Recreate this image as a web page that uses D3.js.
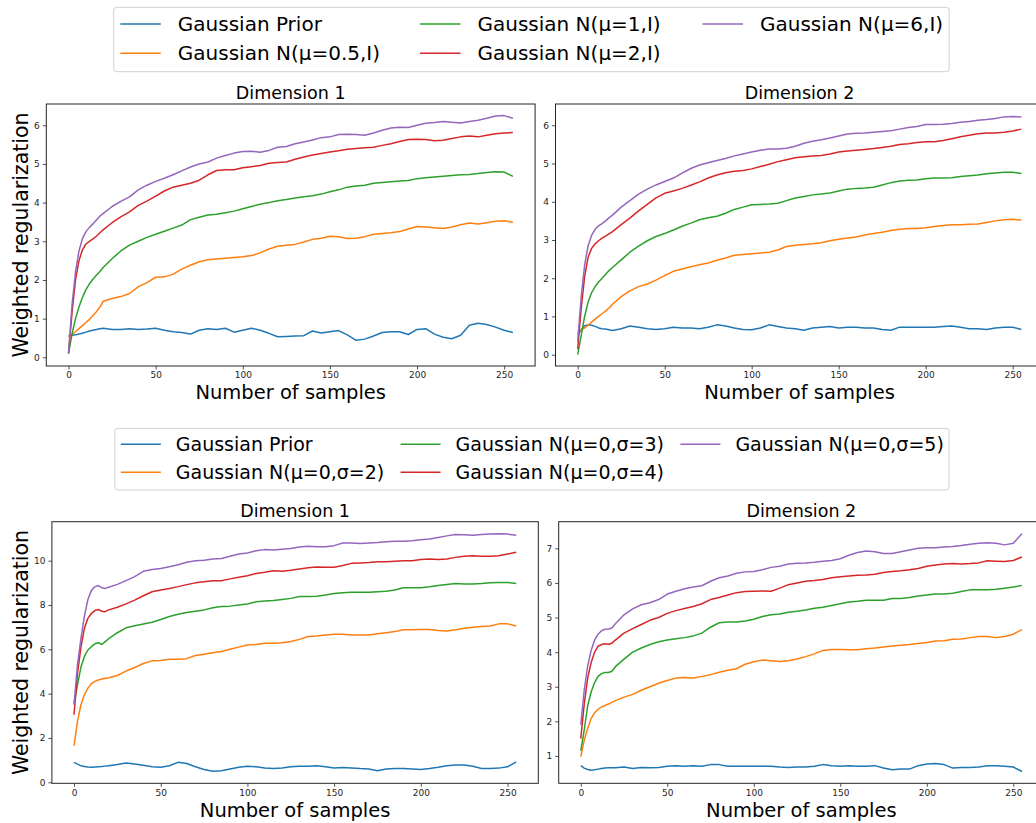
<!DOCTYPE html>
<html>
<head>
    <meta charset="utf-8">
    <title>weighted-regularization</title>
    <style>
        body { margin: 0; background: #fff; }
        svg { display: block; font-family: 'DejaVu Sans', sans-serif; }
    </style>
</head>

<body>
    <svg width="1036" height="823"></svg>

    <script src="https://cdn.jsdelivr.net/npm/d3@7/dist/d3.min.js"></script>
    <script>

    // sample positions (denser at the start where curves are steep)
    var samples = [0,2,4,6,8,10,12,14,16,18,20,25,30,35,40,45,50,55,60,65,70,75,80,85,90,95,100,105,110,115,120,125,130,135,140,145,150,155,160,165,170,175,180,185,190,195,200,205,210,215,220,225,230,235,240,245,250,255]
    var xTicks = [0, 50, 100, 150, 200, 250]

    var colors = ['#1f77b4', '#ff7f0e', '#2ca02c', '#d62728', '#9467bd']
    var muLabels = ['Gaussian Prior', 'Gaussian N(μ=0.5,I)', 'Gaussian N(μ=1,I)', 'Gaussian N(μ=2,I)', 'Gaussian N(μ=6,I)']
    var sigmaLabels = ['Gaussian Prior', 'Gaussian N(μ=0,σ=2)', 'Gaussian N(μ=0,σ=3)', 'Gaussian N(μ=0,σ=4)', 'Gaussian N(μ=0,σ=5)']

    // top figure, dimension 1
    var muD1Prior = [0.56,0.57,0.58,0.6,0.62,0.65,0.68,0.7,0.72,0.74,0.75,0.72,0.72,0.74,0.72,0.73,0.75,0.7,0.66,0.64,0.6,0.7,0.74,0.72,0.75,0.65,0.7,0.75,0.7,0.62,0.53,0.54,0.55,0.56,0.68,0.63,0.66,0.69,0.58,0.44,0.47,0.55,0.64,0.66,0.66,0.59,0.72,0.74,0.6,0.52,0.48,0.57,0.83,0.88,0.85,0.78,0.7,0.64]
    var muD1Half = [0.53,0.59,0.66,0.74,0.82,0.9,0.98,1.08,1.18,1.3,1.45,1.52,1.57,1.65,1.82,1.93,2.07,2.08,2.15,2.28,2.38,2.47,2.52,2.54,2.56,2.58,2.6,2.63,2.7,2.8,2.87,2.9,2.92,2.98,3.05,3.08,3.13,3.12,3.07,3.08,3.12,3.18,3.2,3.22,3.25,3.32,3.38,3.37,3.35,3.33,3.37,3.43,3.47,3.45,3.48,3.52,3.53,3.49]
    var muD1One = [0.1,0.6,1.0,1.3,1.55,1.75,1.9,2.02,2.12,2.22,2.33,2.55,2.75,2.9,3.0,3.1,3.18,3.26,3.34,3.42,3.56,3.62,3.68,3.7,3.74,3.78,3.84,3.9,3.96,4.0,4.05,4.08,4.12,4.15,4.18,4.22,4.28,4.33,4.4,4.43,4.45,4.5,4.52,4.54,4.56,4.57,4.62,4.64,4.66,4.68,4.7,4.72,4.73,4.75,4.78,4.8,4.79,4.68]
    var muD1Two = [0.1,1.15,2.0,2.5,2.78,2.93,3.0,3.06,3.13,3.22,3.3,3.48,3.63,3.76,3.93,4.04,4.17,4.3,4.4,4.45,4.5,4.58,4.72,4.83,4.85,4.85,4.9,4.93,4.96,5.02,5.04,5.05,5.12,5.18,5.23,5.27,5.31,5.34,5.38,5.4,5.42,5.43,5.48,5.52,5.58,5.63,5.64,5.63,5.6,5.61,5.66,5.7,5.72,5.7,5.74,5.78,5.8,5.81]
    var muD1Six = [0.1,1.35,2.2,2.75,3.07,3.25,3.36,3.45,3.55,3.65,3.72,3.9,4.03,4.15,4.33,4.45,4.55,4.63,4.72,4.82,4.92,5.0,5.05,5.15,5.22,5.28,5.32,5.33,5.3,5.35,5.43,5.45,5.52,5.57,5.62,5.68,5.7,5.76,5.77,5.76,5.74,5.8,5.87,5.93,5.95,5.94,6.0,6.05,6.07,6.1,6.08,6.06,6.1,6.13,6.18,6.24,6.25,6.18]

    // top figure, dimension 2
    var muD2Prior = [0.52,0.65,0.76,0.78,0.77,0.74,0.7,0.68,0.67,0.65,0.63,0.68,0.75,0.72,0.68,0.66,0.68,0.72,0.7,0.7,0.68,0.72,0.78,0.75,0.7,0.66,0.65,0.7,0.78,0.74,0.7,0.68,0.64,0.7,0.72,0.74,0.7,0.72,0.72,0.7,0.7,0.66,0.64,0.72,0.72,0.72,0.72,0.72,0.74,0.75,0.72,0.68,0.68,0.66,0.7,0.72,0.72,0.66]
    var muD2Half = [0.6,0.64,0.7,0.77,0.85,0.93,1.0,1.07,1.14,1.22,1.32,1.52,1.67,1.78,1.85,1.95,2.07,2.18,2.24,2.3,2.35,2.4,2.47,2.53,2.6,2.62,2.64,2.66,2.68,2.74,2.83,2.86,2.88,2.9,2.93,2.98,3.02,3.05,3.08,3.13,3.17,3.2,3.25,3.28,3.3,3.3,3.32,3.35,3.38,3.4,3.4,3.41,3.42,3.46,3.5,3.53,3.54,3.52]
    var muD2One = [0.0,0.5,1.0,1.38,1.62,1.78,1.9,2.0,2.1,2.2,2.28,2.48,2.68,2.84,2.98,3.09,3.17,3.26,3.36,3.44,3.53,3.58,3.62,3.7,3.8,3.86,3.92,3.93,3.94,3.96,4.03,4.1,4.14,4.18,4.2,4.23,4.28,4.33,4.35,4.36,4.38,4.44,4.5,4.54,4.56,4.57,4.6,4.62,4.62,4.63,4.66,4.68,4.7,4.73,4.75,4.77,4.77,4.74]
    var muD2Two = [0.15,1.2,2.05,2.55,2.78,2.9,2.98,3.05,3.1,3.16,3.22,3.4,3.57,3.76,3.93,4.1,4.22,4.28,4.35,4.43,4.52,4.62,4.7,4.76,4.8,4.82,4.86,4.92,4.98,5.05,5.1,5.15,5.18,5.2,5.21,5.25,5.3,5.33,5.35,5.37,5.39,5.42,5.45,5.5,5.52,5.55,5.57,5.57,5.6,5.65,5.7,5.74,5.78,5.8,5.8,5.82,5.85,5.9]
    var muD2Six = [0.35,1.5,2.35,2.85,3.12,3.28,3.37,3.43,3.5,3.58,3.65,3.86,4.03,4.2,4.33,4.44,4.53,4.62,4.75,4.87,4.96,5.02,5.08,5.13,5.2,5.25,5.3,5.35,5.38,5.38,5.4,5.45,5.53,5.58,5.62,5.67,5.72,5.77,5.79,5.8,5.82,5.84,5.86,5.9,5.94,5.97,6.02,6.02,6.03,6.05,6.08,6.1,6.13,6.15,6.18,6.22,6.23,6.22]

    // bottom figure, dimension 1
    var sigD1Prior = [0.9,0.82,0.75,0.71,0.69,0.68,0.69,0.7,0.71,0.73,0.75,0.8,0.87,0.83,0.77,0.7,0.68,0.75,0.9,0.85,0.7,0.58,0.5,0.52,0.6,0.68,0.72,0.7,0.65,0.62,0.65,0.7,0.72,0.72,0.75,0.7,0.65,0.67,0.65,0.62,0.6,0.52,0.6,0.62,0.62,0.6,0.58,0.62,0.68,0.75,0.78,0.78,0.72,0.62,0.62,0.64,0.7,0.92]
    var sigD1Two = [1.65,2.75,3.5,3.95,4.25,4.45,4.55,4.62,4.66,4.7,4.72,4.82,5.02,5.18,5.36,5.48,5.5,5.55,5.55,5.58,5.72,5.78,5.85,5.9,6.0,6.1,6.2,6.22,6.28,6.28,6.3,6.35,6.45,6.58,6.6,6.65,6.68,6.68,6.65,6.65,6.65,6.7,6.75,6.8,6.88,6.88,6.9,6.9,6.85,6.83,6.88,6.95,7.0,7.03,7.05,7.15,7.15,7.05]
    var sigD1Three = [3.55,4.4,5.2,5.68,5.97,6.12,6.25,6.3,6.22,6.35,6.48,6.75,6.97,7.06,7.14,7.22,7.35,7.48,7.58,7.66,7.72,7.78,7.88,7.93,7.95,8.0,8.05,8.15,8.18,8.2,8.25,8.3,8.38,8.38,8.4,8.45,8.52,8.55,8.58,8.58,8.58,8.6,8.62,8.68,8.78,8.78,8.78,8.82,8.88,8.93,8.97,8.95,8.95,8.97,9.0,9.02,9.02,8.97]
    var sigD1Four = [3.05,4.9,6.1,6.95,7.4,7.62,7.75,7.8,7.72,7.7,7.78,7.9,8.05,8.22,8.42,8.6,8.68,8.75,8.83,8.92,9.0,9.05,9.1,9.1,9.18,9.25,9.32,9.42,9.48,9.55,9.52,9.57,9.63,9.68,9.72,9.7,9.7,9.78,9.88,9.9,9.92,9.95,9.95,9.98,10.0,10.0,10.05,10.08,10.05,10.08,10.15,10.2,10.22,10.2,10.2,10.22,10.3,10.38]
    var sigD1Five = [3.5,5.3,6.5,7.5,8.25,8.65,8.82,8.88,8.78,8.75,8.8,8.93,9.1,9.28,9.52,9.6,9.65,9.73,9.82,9.93,10.0,10.02,10.08,10.1,10.2,10.3,10.35,10.45,10.5,10.48,10.52,10.55,10.62,10.65,10.63,10.63,10.68,10.8,10.8,10.78,10.8,10.82,10.85,10.88,10.88,10.9,10.95,10.98,11.05,11.12,11.18,11.17,11.15,11.18,11.2,11.22,11.2,11.15]

    // bottom figure, dimension 2
    var sigD2Prior = [0.72,0.65,0.61,0.59,0.6,0.62,0.64,0.65,0.66,0.66,0.66,0.68,0.64,0.67,0.66,0.67,0.7,0.72,0.7,0.72,0.7,0.75,0.75,0.7,0.7,0.7,0.7,0.7,0.7,0.68,0.67,0.68,0.68,0.7,0.75,0.72,0.7,0.72,0.7,0.7,0.72,0.65,0.6,0.62,0.62,0.72,0.77,0.78,0.75,0.65,0.67,0.67,0.68,0.72,0.72,0.7,0.68,0.55]
    var sigD2Two = [0.98,1.45,1.8,2.08,2.25,2.35,2.42,2.46,2.5,2.55,2.6,2.7,2.78,2.9,3.0,3.1,3.18,3.25,3.27,3.25,3.3,3.35,3.42,3.48,3.52,3.65,3.72,3.77,3.75,3.73,3.75,3.8,3.87,3.95,4.05,4.08,4.08,4.07,4.07,4.1,4.12,4.15,4.18,4.2,4.22,4.25,4.28,4.32,4.33,4.37,4.38,4.42,4.45,4.45,4.42,4.45,4.52,4.65]
    var sigD2Three = [1.15,1.75,2.45,2.85,3.12,3.3,3.38,3.41,3.41,3.45,3.58,3.8,4.0,4.12,4.22,4.3,4.35,4.39,4.42,4.47,4.55,4.72,4.85,4.87,4.87,4.9,4.95,5.03,5.08,5.1,5.15,5.18,5.22,5.27,5.3,5.35,5.4,5.45,5.47,5.5,5.5,5.5,5.55,5.55,5.58,5.62,5.65,5.68,5.68,5.7,5.75,5.8,5.8,5.8,5.82,5.85,5.88,5.93]
    var sigD2Four = [1.5,2.5,3.25,3.7,4.0,4.17,4.22,4.24,4.23,4.26,4.35,4.55,4.68,4.8,4.92,5.0,5.12,5.2,5.26,5.32,5.4,5.52,5.58,5.65,5.72,5.75,5.76,5.77,5.76,5.85,5.95,6.0,6.05,6.07,6.1,6.15,6.18,6.2,6.22,6.23,6.25,6.3,6.33,6.35,6.38,6.42,6.48,6.52,6.55,6.56,6.55,6.56,6.58,6.64,6.63,6.62,6.65,6.75]
    var sigD2Five = [1.9,2.9,3.6,4.05,4.35,4.52,4.62,4.66,4.67,4.7,4.82,5.08,5.25,5.37,5.43,5.52,5.68,5.76,5.83,5.88,5.92,6.05,6.15,6.2,6.28,6.32,6.33,6.38,6.45,6.48,6.55,6.57,6.58,6.6,6.63,6.65,6.7,6.8,6.88,6.92,6.9,6.85,6.85,6.9,6.95,7.0,7.02,7.02,7.04,7.05,7.08,7.12,7.15,7.16,7.15,7.1,7.15,7.42]

    var svg = d3.select('svg')
    var ink = '#262626'

    // one subplot: box, lines, ticks, title and labels
    function drawPanel(p) {
        var x = d3.scaleLinear().domain([-12.75, 267.75]).range([p.left, p.right])
        var y = d3.scaleLinear().domain(p.yDomain).range([p.bottom, p.top])
        var g = svg.append('g')

        var clipId = 'clip' + p.id
        g.append('clipPath').attr('id', clipId)
            .append('rect')
            .attr('x', p.left).attr('y', p.top)
            .attr('width', p.right - p.left).attr('height', p.bottom - p.top)

        var line = d3.line()
            .x(function(d, i){ return x(samples[i]) })
            .y(function(d){ return y(d) })

        g.append('g').attr('clip-path', 'url(#' + clipId + ')')
            .selectAll('path')
            .data(p.series)
            .enter().append('path')
            .attr('d', line)
            .attr('fill', 'none')
            .attr('stroke', function(d, i){ return colors[i] })
            .attr('stroke-width', 1.5)
            .attr('stroke-linejoin', 'round')

        var xAxis = g.append('g')
            .attr('transform', 'translate(0,' + p.bottom + ')')
            .call(d3.axisBottom(x).tickValues(xTicks).tickFormat(d3.format('d'))
                .tickSize(3.5).tickPadding(2.5))
        var yAxis = g.append('g')
            .attr('transform', 'translate(' + p.left + ',0)')
            .call(d3.axisLeft(y).tickValues(p.yTicks).tickFormat(d3.format('d'))
                .tickSize(3.5).tickPadding(3))

        ;[xAxis, yAxis].forEach(function(a){
            a.select('.domain').remove()
            a.selectAll('line').attr('stroke', ink).attr('stroke-width', 0.8)
            a.selectAll('text').attr('fill', ink)
                .style('font-size', '9px')
                .style('font-family', 'DejaVu Sans, sans-serif')
        })

        // spines
        g.append('rect')
            .attr('x', p.left).attr('y', p.top)
            .attr('width', p.right - p.left).attr('height', p.bottom - p.top)
            .attr('fill', 'none').attr('stroke', ink).attr('stroke-width', 1)

        g.append('text')
            .attr('x', (p.left + p.right) / 2).attr('y', p.top - 5)
            .attr('text-anchor', 'middle')
            .style('font-size', '17.5px')
            .text(p.title)

        g.append('text')
            .attr('x', (p.left + p.right) / 2).attr('y', p.xLabelY)
            .attr('text-anchor', 'middle')
            .style('font-size', '19.5px')
            .text('Number of samples')

        if (p.yLabel) {
            g.append('text')
                .attr('transform', 'translate(27.5,' + (p.top + p.bottom) / 2 + ') rotate(-90)')
                .attr('text-anchor', 'middle')
                .style('font-size', '20.5px')
                .text('Weighted regularization')
        }
    }

    // three-column legend, filled column by column
    function drawLegend(l) {
        var g = svg.append('g')
        g.append('rect')
            .attr('x', l.left).attr('y', l.top)
            .attr('width', l.right - l.left).attr('height', l.bottom - l.top)
            .attr('rx', 3)
            .attr('fill', '#fff').attr('stroke', '#d0d0d0').attr('stroke-width', 1)

        var item = g.selectAll('g.item')
            .data(l.labels)
            .enter().append('g')
            .attr('transform', function(d, i){
                return 'translate(' + l.cols[Math.floor(i / 2)] + ',' + l.rows[i % 2] + ')'
            })
        item.append('line')
            .attr('x1', 0).attr('x2', l.lineLen)
            .attr('stroke', function(d, i){ return colors[i] })
            .attr('stroke-width', 1.5)
        item.append('text')
            .attr('x', l.textGap)
            .attr('dy', '0.35em')
            .style('font-size', l.fontSize)
            .text(function(d){ return d })
    }

    drawLegend({
        left: 113.7, right: 949.2, top: 7.3, bottom: 71.7,
        cols: [120.3, 420, 702.5], rows: [24, 53.3],
        lineLen: 40.5, textGap: 57.5, fontSize: '20px',
        labels: muLabels
    })
    drawLegend({
        left: 114.8, right: 949, top: 428.3, bottom: 490,
        cols: [120.8, 400.6, 680.4], rows: [444.3, 472.3],
        lineLen: 40, textGap: 55, fontSize: '19px',
        labels: sigmaLabels
    })

    drawPanel({
        id: 'tl', left: 46.3, right: 535.1, top: 104, bottom: 366,
        yDomain: [-0.225, 6.55], yTicks: [0, 1, 2, 3, 4, 5, 6],
        title: 'Dimension 1', xLabelY: 399.3, yLabel: true,
        series: [muD1Prior, muD1Half, muD1One, muD1Two, muD1Six]
    })
    drawPanel({
        id: 'tr', left: 555.5, right: 1043.6, top: 104, bottom: 366,
        yDomain: [-0.296, 6.557], yTicks: [0, 1, 2, 3, 4, 5, 6],
        title: 'Dimension 2', xLabelY: 399.3, yLabel: false,
        series: [muD2Prior, muD2Half, muD2One, muD2Two, muD2Six]
    })
    drawPanel({
        id: 'bl', left: 51.9, right: 538.3, top: 521.7, bottom: 783.3,
        yDomain: [-0.045, 11.76], yTicks: [0, 2, 4, 6, 8, 10],
        title: 'Dimension 1', xLabelY: 817, yLabel: true,
        series: [sigD1Prior, sigD1Two, sigD1Three, sigD1Four, sigD1Five]
    })
    drawPanel({
        id: 'br', left: 558.7, right: 1044, top: 521.7, bottom: 783.3,
        yDomain: [0.21, 7.77], yTicks: [1, 2, 3, 4, 5, 6, 7],
        title: 'Dimension 2', xLabelY: 817, yLabel: false,
        series: [sigD2Prior, sigD2Two, sigD2Three, sigD2Four, sigD2Five]
    })

    </script>
</body>
</html>
